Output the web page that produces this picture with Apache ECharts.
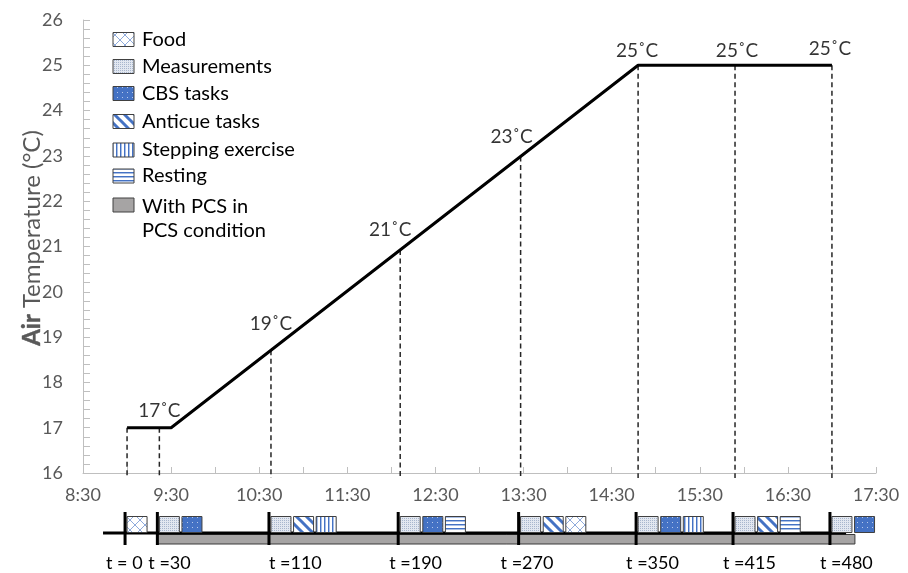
<!DOCTYPE html>
<html>
<head>
<meta charset="utf-8">
<script src="https://cdn.jsdelivr.net/npm/echarts@6/dist/echarts.min.js"></script>
<style>
  html, body { margin: 0; padding: 0; background: #fff; }
  #chart { width: 908px; height: 573px; }
</style>
</head>
<body>
<div id="chart"></div>
<script>
// Time axis: minutes after 8:30
const timeLabels = ['8:30', '9:30', '10:30', '11:30', '12:30', '13:30', '14:30', '15:30', '16:30', '17:30'];

// Air temperature profile (vertices of the ramp)
const tempTimes = [30, 60, 378, 510];
const tempValues = [17, 17, 25, 25];

// Set-point annotations
const setpointTimes = [52, 128, 216, 298, 378, 444, 510];
const setpointValues = [17, 19, 21, 23, 25, 25, 25];

// Session markers on the timeline
const markerTimes = [30, 52, 128, 216, 298, 378, 444, 510];
const markerLabels = ['t = 0', 't =30', 't =110', 't =190', 't =270', 't =350', 't =415', 't =480'];

// Activities performed at each session marker
const sessionActivities = [
  ['Food'],
  ['Measurements', 'CBS tasks'],
  ['Measurements', 'Anticue tasks', 'Stepping exercise'],
  ['Measurements', 'CBS tasks', 'Resting'],
  ['Measurements', 'Anticue tasks', 'Food'],
  ['Measurements', 'CBS tasks', 'Stepping exercise'],
  ['Measurements', 'Anticue tasks', 'Resting'],
  ['Measurements', 'CBS tasks']
];

// Period with PCS worn, and extent of the timeline base line
const pcsSpan = [52, 527];
const timelineSpan = [15, 521];

const legendNames = ['Food', 'Measurements', 'CBS tasks', 'Anticue tasks', 'Stepping exercise', 'Resting', 'With PCS in\nPCS condition'];

const FONT = 'Lato, "Noto Sans", sans-serif';
const BLUE = '#4472c4';

function makeTile(w, h, draw) {
  const c = document.createElement('canvas');
  c.width = w; c.height = h;
  draw(c.getContext('2d'), w, h);
  return { image: c, repeat: 'repeat' };
}

const patterns = {
  'Food': makeTile(10, 10, (g, w, h) => {
    g.fillStyle = '#ffffff'; g.fillRect(0, 0, w, h);
    g.strokeStyle = '#8eaadb'; g.lineWidth = 1;
    g.beginPath();
    g.moveTo(0, 0); g.lineTo(10, 10);
    g.moveTo(10, 0); g.lineTo(0, 10);
    g.stroke();
  }),
  'Measurements': makeTile(2, 2, (g, w, h) => {
    g.fillStyle = '#e2e7f0'; g.fillRect(0, 0, w, h);
    g.fillStyle = '#a8b6cd'; g.fillRect(0, 0, 1, 1);
  }),
  'CBS tasks': makeTile(5, 5, (g, w, h) => {
    g.fillStyle = BLUE; g.fillRect(0, 0, w, h);
    g.fillStyle = '#b8c9ea'; g.fillRect(2, 2, 1, 1);
  }),
  'Anticue tasks': makeTile(10, 10, (g, w, h) => {
    g.fillStyle = '#ffffff'; g.fillRect(0, 0, w, h);
    g.strokeStyle = BLUE; g.lineWidth = 3;
    g.beginPath();
    for (let k = -10; k <= 10; k += 10) { g.moveTo(k - 2, -2); g.lineTo(k + 12, 12); }
    g.stroke();
  }),
  'Stepping exercise': makeTile(4, 4, (g, w, h) => {
    g.fillStyle = '#ffffff'; g.fillRect(0, 0, w, h);
    g.fillStyle = BLUE; g.fillRect(0, 0, 1, h);
    g.fillStyle = '#a9bfe6'; g.fillRect(1, 0, 1, h);
  }),
  'Resting': makeTile(4, 4, (g, w, h) => {
    g.fillStyle = '#ffffff'; g.fillRect(0, 0, w, h);
    g.fillStyle = BLUE; g.fillRect(0, 0, w, 1);
    g.fillStyle = '#a9bfe6'; g.fillRect(0, 1, w, 1);
  }),
  'With PCS in\nPCS condition': '#a6a4a4'
};

function tempAt(t) {
  for (let i = 0; i < tempTimes.length - 1; i++) {
    if (t <= tempTimes[i + 1]) {
      const f = (t - tempTimes[i]) / (tempTimes[i + 1] - tempTimes[i]);
      return tempValues[i] + f * (tempValues[i + 1] - tempValues[i]);
    }
  }
  return tempValues[tempValues.length - 1];
}

// label offsets for the set-point annotations (pixels)
const setpointLabelOffsets = [[0, -17], [0, -13], [-10, -17], [-9, -19], [-1, -14], [2, -14], [-2, -16]];
// horizontal shift of the session labels relative to their tick (pixels)
const markerLabelShift = [-19, -9, 0, -9, -18, -10, -10, -10];

const axisGray = '#bfbfbf';
const labelGray = '#595959';

// Legend and axis title drawn as graphic elements
const legendRows = [39.5, 66.5, 93.5, 121.5, 150, 176, 205];
const graphics = [];
legendNames.forEach((name, i) => {
  const cy = legendRows[i];
  graphics.push({
    type: 'rect',
    shape: { x: 113, y: cy - 7, width: 21, height: 14 },
    style: { fill: patterns[name], stroke: '#404040', lineWidth: 1 }
  });
  const multi = name.indexOf('\n') >= 0;
  graphics.push({
    type: 'text',
    x: 142,
    y: multi ? cy - 10 : cy,
    style: {
      text: name, fill: '#000', fontSize: 20, fontFamily: FONT,
      verticalAlign: multi ? 'top' : 'middle', lineHeight: 24
    }
  });
});

// Vertical axis title: bold "Air" followed by the regular remainder
(function () {
  const size = 24;
  const titleA = 'Air';
  const titleB = 'Temperature (°C)';
  const g = document.createElement('canvas').getContext('2d');
  g.font = 'bold ' + size + 'px ' + FONT; const wA = g.measureText(titleA).width;
  g.font = size + 'px ' + FONT; const wB = g.measureText(titleB).width;
  const gap = 6;
  const total = wA + gap + wB;
  const cx = 32, cy = 238;
  const yStart = cy + total / 2;
  graphics.push({
    type: 'text', x: cx, y: yStart, rotation: Math.PI / 2,
    style: {
      text: titleA, fontSize: size, fontWeight: 700, fontFamily: FONT,
      fill: labelGray, stroke: labelGray, lineWidth: 0.4,
      align: 'left', verticalAlign: 'middle'
    }
  });
  graphics.push({
    type: 'text', x: cx, y: yStart - wA - gap, rotation: Math.PI / 2,
    style: {
      text: titleB, fontSize: size, fontWeight: 'normal', fontFamily: FONT,
      fill: labelGray, align: 'left', verticalAlign: 'middle'
    }
  });
})();

const chart = echarts.init(document.getElementById('chart'), null, { renderer: 'canvas' });

const option = {
  animation: false,
  backgroundColor: '#ffffff',
  textStyle: { fontFamily: FONT },
  grid: [
    { left: 83, right: 32, top: 20, bottom: 100 },
    { left: 81, right: 34, top: 512, height: 33 }
  ],
  xAxis: [
    {
      type: 'value', gridIndex: 0, min: 0, max: 540, interval: 60,
      axisLine: { show: true, lineStyle: { color: axisGray, width: 1 } },
      axisTick: { show: true, inside: true, length: 6, lineStyle: { color: axisGray } },
      minorTick: { show: true, splitNumber: 2, length: 6, lineStyle: { color: axisGray } },
      splitLine: { show: false },
      axisLabel: {
        color: labelGray, fontSize: 18, fontFamily: FONT, margin: 13,
        formatter: v => timeLabels[Math.round(v / 60)] || ''
      }
    },
    {
      type: 'value', gridIndex: 1, min: 0, max: 540, show: false
    }
  ],
  yAxis: [
    {
      type: 'value', gridIndex: 0, min: 16, max: 26, interval: 1,
      axisLine: { show: true, lineStyle: { color: axisGray, width: 1 } },
      axisTick: { show: true, inside: true, length: 7, lineStyle: { color: axisGray } },
      minorTick: { show: true, splitNumber: 5, length: 7, lineStyle: { color: axisGray } },
      splitLine: { show: false },
      axisLabel: { color: labelGray, fontSize: 18, fontFamily: FONT, margin: 20 }
    },
    { type: 'value', gridIndex: 1, min: 0, max: 1, show: false }
  ],
  graphic: graphics,
  series: [
    {
      name: 'dashes',
      type: 'custom',
      xAxisIndex: 0, yAxisIndex: 0,
      clip: false,
      data: markerTimes.map(t => [t, tempAt(t)]),
      renderItem: (params, api) => {
        const top = api.coord([api.value(0), api.value(1)]);
        const bottom = api.coord([api.value(0), 16]);
        return {
          type: 'line',
          shape: { x1: top[0], y1: top[1], x2: top[0], y2: bottom[1] + 5 },
          style: { stroke: '#262626', lineWidth: 1.5, lineDash: [5, 3.5] }
        };
      },
      z: 1
    },
    {
      name: 'Air temperature',
      type: 'line',
      xAxisIndex: 0, yAxisIndex: 0,
      data: tempTimes.map((t, i) => [t, tempValues[i]]),
      symbol: 'none',
      lineStyle: { color: '#000', width: 3 },
      z: 3
    },
    {
      name: 'Set-points',
      type: 'scatter',
      xAxisIndex: 0, yAxisIndex: 0,
      symbolSize: 1,
      itemStyle: { color: 'transparent' },
      data: setpointTimes.map((t, i) => ({
        value: [t, setpointValues[i]],
        label: { offset: setpointLabelOffsets[i] }
      })),
      label: {
        show: true, position: 'inside', color: '#000', fontSize: 19, fontFamily: FONT,
        formatter: p => p.value[1] + '˚C'
      },
      z: 4
    },
    {
      name: 'PCS period',
      type: 'custom',
      xAxisIndex: 1, yAxisIndex: 1,
      clip: false,
      data: [[pcsSpan[0], pcsSpan[1], timelineSpan[0], timelineSpan[1]]],
      renderItem: (params, api) => {
        const a = api.coord([api.value(0), 0]);
        const b = api.coord([api.value(1), 0]);
        const c = api.coord([api.value(2), 0]);
        const d = api.coord([api.value(3), 0]);
        const y0 = api.coord([0, 0])[1];
        return {
          type: 'group',
          children: [
            {
              type: 'rect',
              shape: { x: a[0], y: y0 - 10.5, width: b[0] - a[0], height: 9.5 },
              style: { fill: patterns['With PCS in\nPCS condition'], stroke: '#3a3a3a', lineWidth: 1 }
            },
            {
              type: 'rect',
              shape: { x: c[0], y: y0 - 13.5, width: d[0] - c[0], height: 3 },
              style: { fill: '#000' }
            }
          ]
        };
      },
      z: 2
    },
    {
      name: 'Sessions',
      type: 'custom',
      xAxisIndex: 1, yAxisIndex: 1,
      clip: false,
      data: markerTimes.map((t, i) => [t, i]),
      renderItem: (params, api) => {
        const idx = api.value(1);
        const p = api.coord([api.value(0), 0]);
        const top = api.coord([api.value(0), 1]);
        const x = p[0];
        const y0 = p[1];
        const children = [];
        sessionActivities[idx].forEach((act, j) => {
          children.push({
            type: 'rect',
            shape: { x: x + 2 + j * 22.6, y: y0 - 28.5, width: 20, height: 16 },
            style: { fill: patterns[act], stroke: '#404040', lineWidth: 1 }
          });
        });
        children.push({
          type: 'rect',
          shape: { x: x - 1.5, y: top[1], width: 3, height: y0 - top[1] },
          style: { fill: '#000' }
        });
        children.push({
          type: 'text',
          x: x + markerLabelShift[idx],
          y: y0 + 18,
          style: { text: markerLabels[idx], fill: '#000', fontSize: 18, fontFamily: FONT, verticalAlign: 'middle', align: 'left' }
        });
        return { type: 'group', children };
      },
      z: 5
    }
  ]
};

chart.setOption(option);
</script>
</body>
</html>
